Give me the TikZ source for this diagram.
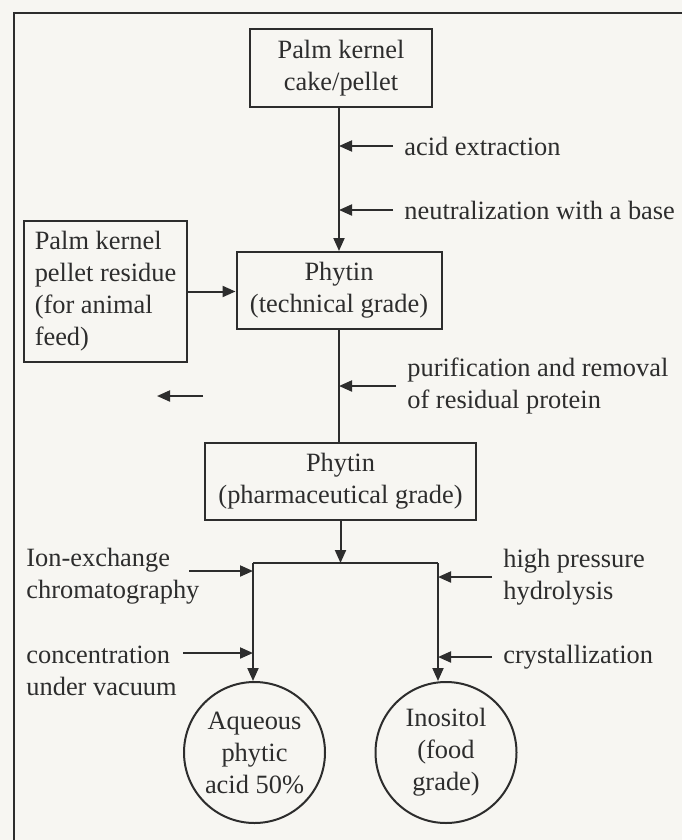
\documentclass[tikz,border=0pt]{standalone}
\usepackage{fontspec}
\setmainfont{Liberation Serif}
\usetikzlibrary{arrows.meta}
\definecolor{paper}{RGB}{247,246,242}
\definecolor{ink}{RGB}{45,45,45}
\tikzset{
  box/.style={draw=ink, line width=1pt, align=center, inner sep=2pt},
  pot/.style={draw=ink, line width=1pt, circle, align=center, inner sep=0pt},
  lbl/.style={anchor=west, align=left, inner xsep=5.5pt, inner ysep=1pt},
  flow/.style={draw=ink, line width=1pt, -{Triangle[length=6.5pt,width=5.5pt]}},
  pipe/.style={draw=ink, line width=1pt},
  feed/.style={draw=ink, line width=1pt, -{Triangle[length=6.5pt,width=5.5pt]}}
}
\begin{document}
\begin{tikzpicture}[x=0.5pt, y=-0.5pt, font=\fontsize{13.2}{16}\selectfont, text=ink]
\useasboundingbox (0,0) rectangle (682,840);
\fill[paper] (0,0) rectangle (682,840);
\draw[pipe] (14,840) -- (14,13) -- (682,13);
% boxes
\node[box, minimum width=91pt, minimum height=39pt] (cake) at (341,68) {Palm kernel\\cake/pellet};
\node[box, minimum width=102.5pt, minimum height=38.5pt] (tech) at (339,290.5) {Phytin\\(technical grade)};
\node[box, minimum width=81.5pt, minimum height=70.5pt, align=left] (residue) at (105.5,291.5) {Palm kernel\\pellet residue\\(for animal\\feed)};
\node[box, minimum width=135.5pt, minimum height=38.5pt] (pharm) at (340.5,481.5) {Phytin\\(pharmaceutical grade)};
\node[pot, minimum size=70.5pt] (aqueous) at (254.5,752.5) {Aqueous\\phytic\\acid 50\%};
\node[pot, minimum size=70.5pt] (inositol) at (446,752.5) {Inositol\\(food\\grade)};
% side labels
\node[lbl] (acid) at (393,146) {acid extraction};
\node[lbl] (neutral) at (393,210) {neutralization with a base};
\node[lbl] (purify) at (396,386) {purification and removal\\of residual protein};
\node[lbl] (ion) at (15,576) {Ion-exchange\\chromatography};
\node[lbl] (conc) at (15,671) {concentration\\under vacuum};
\node[lbl] (hydro) at (492,577) {high pressure\\hydrolysis};
\node[lbl] (cryst) at (492,657) {crystallization};
\coordinate (lsplit) at (253,563);
\coordinate (rsplit) at (438,563);
\coordinate (ionfrom) at (189,571);
\coordinate (concfrom) at (183,653);
\coordinate (stray) at (203,396);
\coordinate (strayend) at (157,396);
% main flow
\draw[flow] (tech.north |- cake.south) -- (tech.north);
\draw[pipe] (tech.south) -- (tech.south |- pharm.north);
\draw[flow] (pharm.south) -- (pharm.south |- lsplit);
\draw[pipe] (lsplit) -- (rsplit);
\draw[flow] (lsplit) -- (lsplit |- aqueous.north);
\draw[flow] (rsplit) -- (rsplit |- inositol.north);
\draw[flow] (residue.east) -- (residue.east -| tech.west);
% inputs
\draw[feed] (acid.west) -- (acid.west -| tech.north);
\draw[feed] (neutral.west) -- (neutral.west -| tech.north);
\draw[feed] (purify.west) -- (purify.west -| tech.south);
\draw[feed] (ionfrom) -- (ionfrom -| lsplit);
\draw[feed] (concfrom) -- (concfrom -| lsplit);
\draw[feed] (hydro.west) -- (hydro.west -| rsplit);
\draw[feed] (cryst.west) -- (cryst.west -| rsplit);
\draw[feed] (stray) -- (strayend);
\end{tikzpicture}
\end{document}
